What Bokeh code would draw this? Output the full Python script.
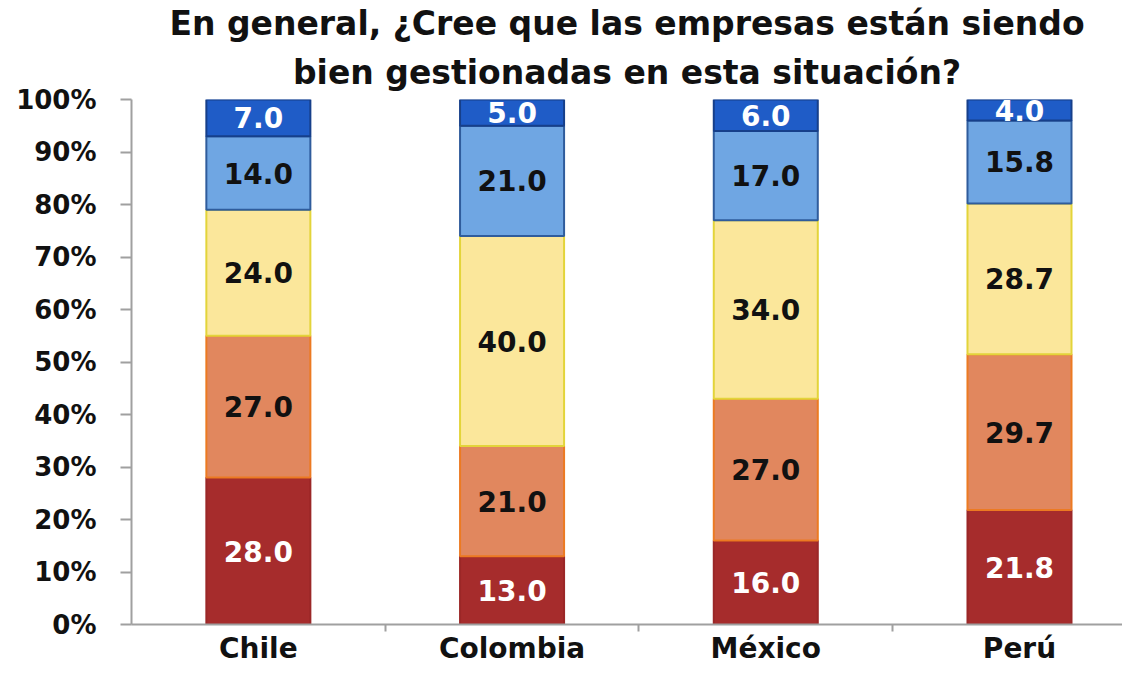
import numpy as np
from bokeh.plotting import figure
from bokeh.models import ColumnDataSource, Range1d, FixedTicker, PrintfTickFormatter, Title
from bokeh.core.properties import value
from bokeh.embed import file_html
from bokeh.resources import INLINE

# ---- data ----
countries = ["Chile", "Colombia", "México", "Perú"]
muy_mal = [28.0, 13.0, 16.0, 21.8]
mal = [27.0, 21.0, 27.0, 29.7]
regular = [24.0, 40.0, 34.0, 28.7]
bien = [14.0, 21.0, 17.0, 15.8]
muy_bien = [7.0, 5.0, 6.0, 4.0]
series_names = ["muy_mal", "mal", "regular", "bien", "muy_bien"]
y_ticks = [0, 10, 20, 30, 40, 50, 60, 70, 80, 90, 100]
title_lines = ["En general, ¿Cree que las empresas están siendo",
               "bien gestionadas en esta situación?"]

fills = ["#A62C2C", "#E1875E", "#FBE79B", "#6FA6E3", "#1F5CC7"]
lines = ["#9B2727", "#EC7A22", "#E3D43A", "#2F5C9C", "#163F8A"]
text_cols = ["#FFFFFF", "#111111", "#111111", "#111111", "#FFFFFF"]

FONT = "DejaVu Sans"

xpos = [i + 0.5 for i in range(len(countries))]
data = dict(x=xpos)
series = [muy_mal, mal, regular, bien, muy_bien]
for n, s in zip(series_names, series):
    data[n] = s
src = ColumnDataSource(data)

p = figure(width=1122, height=667, output_backend="svg", toolbar_location=None,
           title=None,
           x_range=Range1d(0, 3.906), y_range=Range1d(0, 100),
           min_border_left=131, min_border_right=0, min_border_top=99,
           min_border_bottom=36)
p.outline_line_color = None
p.background_fill_color = "white"
p.border_fill_color = "white"

p.vbar_stack(series_names, x="x", width=0.41, source=src,
             fill_color=fills, line_color=lines, line_width=2)

# labels
arr = np.array(series)
cum = np.cumsum(arr, axis=0)
for k, n in enumerate(series_names):
    centers = cum[k] - arr[k] / 2
    lsrc = ColumnDataSource(dict(x=xpos, y=list(centers),
                                 t=[f"{v:.1f}" for v in series[k]]))
    p.text(x="x", y="y", text="t", source=lsrc, text_align="center",
           text_baseline="middle", text_color=text_cols[k],
           text_font=value(FONT), text_font_style="bold", text_font_size="28px")

# title (two centred lines)
for i, line in enumerate(reversed(title_lines)):
    t = Title(text=line, align="center", text_font=FONT, text_font_style="bold",
              text_font_size="33px", text_color="#111111",
              standoff=16 if i == 0 else 0)
    p.add_layout(t, "above")

# grid: only top line
p.xgrid.visible = False
p.ygrid.ticker = FixedTicker(ticks=[100])
p.ygrid.grid_line_color = "#A8A8A8"
p.ygrid.grid_line_width = 2

# y axis
ya = p.yaxis[0]
ya.ticker = FixedTicker(ticks=y_ticks)
ya.formatter = PrintfTickFormatter(format="%d%%")
ya.axis_line_color = "#A0A0A0"
ya.axis_line_width = 2
ya.major_tick_line_color = "#A0A0A0"
ya.major_tick_line_width = 2
ya.major_tick_out = 11
ya.major_tick_in = 0
ya.minor_tick_line_color = None
ya.major_label_standoff = 24
ya.major_label_text_font = FONT
ya.major_label_text_font_style = "bold"
ya.major_label_text_font_size = "26px"
ya.major_label_text_color = "#111111"

# x axis
xa = p.xaxis[0]
xa.ticker = FixedTicker(ticks=xpos, minor_ticks=[1, 2, 3])
xa.major_label_overrides = {x: c for x, c in zip(xpos, countries)}
xa.axis_line_color = "#A0A0A0"
xa.axis_line_width = 2
xa.major_tick_line_color = None
xa.major_tick_out = 0
xa.major_tick_in = 0
xa.minor_tick_line_color = "#A0A0A0"
xa.minor_tick_line_width = 2
xa.minor_tick_out = 7
xa.minor_tick_in = 0
xa.major_label_standoff = 0
xa.major_label_text_font = FONT
xa.major_label_text_font_style = "bold"
xa.major_label_text_font_size = "28px"
xa.major_label_text_color = "#111111"

open("out.html", "w").write(file_html(p, INLINE))
